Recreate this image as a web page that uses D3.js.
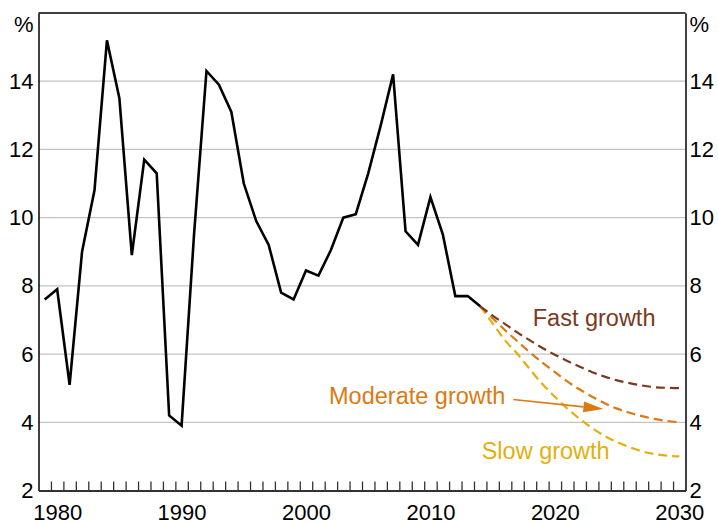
<!DOCTYPE html>
<html>
<head>
<meta charset="utf-8">
<script src="https://cdn.jsdelivr.net/npm/d3@7"></script>
<style>
  body { margin: 0; background: #fff; }
  svg { display: block; font-family: "Liberation Sans", Arial, sans-serif; }
</style>
</head>
<body>
<script>
// ---- data ----
const histYears = d3.range(1979, 2015);
const histValues = [7.6, 7.9, 5.1, 9.0, 10.8, 15.2, 13.5, 8.9, 11.7, 11.3, 4.2, 3.9, 9.5,
  14.3, 13.9, 13.1, 11.0, 9.9, 9.2, 7.8, 7.6, 8.45, 8.3, 9.05, 10.0, 10.1, 11.3, 12.7,
  14.2, 9.6, 9.2, 10.6, 9.5, 7.7, 7.7, 7.4];

const projYears = d3.range(2014, 2031);
const fastValues = [7.4, 7.13, 6.88, 6.63, 6.4, 6.18, 5.98, 5.8, 5.63, 5.47, 5.34, 5.23, 5.15, 5.08, 5.03, 5.01, 5.0];
const moderateValues = [7.4, 7.05, 6.7, 6.37, 6.05, 5.75, 5.47, 5.2, 4.96, 4.75, 4.56, 4.4, 4.28, 4.18, 4.1, 4.04, 4.0];
const slowValues = [7.4, 6.9, 6.4, 6.0, 5.55, 5.12, 4.75, 4.4, 4.1, 3.83, 3.6, 3.42, 3.27, 3.15, 3.07, 3.02, 3.0];

const seriesNames = ["Fast growth", "Moderate growth", "Slow growth"];
const seriesColors = ["#7a3a1c", "#dc7a12", "#e2b00e"];

const yTicks = [2, 4, 6, 8, 10, 12, 14];
const xLabelYears = [1980, 1990, 2000, 2010, 2020, 2030];
const xMinorTicks = d3.range(1979.5, 2030, 1);

// annotation anchors in data units [year, value]
const labelAnchors = [[2018.22, 6.82], [2001.85, 4.54], [2014.12, 2.92]];
const arrowFrom = [2016.66, 4.67];
const arrowTo = [2023.9, 4.39];

// ---- chart ----
const W = 718, H = 524;
const svg = d3.select("body").append("svg").attr("width", W).attr("height", H);

const x = d3.scaleLinear().domain([1978.5, 2030.5]).range([38.5, 685.5]);
const y = d3.scaleLinear().domain([2, 16]).range([490.5, 13]);

// gridlines
svg.append("g").selectAll("line").data([4, 6, 8, 10, 12, 14]).join("line")
  .attr("x1", x(1978.5)).attr("x2", x(2030.5))
  .attr("y1", d => y(d)).attr("y2", d => y(d))
  .attr("stroke", "#c4c4c4").attr("stroke-width", 1.3);

// top border
svg.append("line").attr("x1", x(1978.5)).attr("x2", x(2030.5))
  .attr("y1", y(16)).attr("y2", y(16)).attr("stroke", "#000").attr("stroke-width", 1.5);

const tickFont = "22px";

// left axis
const gl = svg.append("g").attr("transform", `translate(${x(1978.5)},0)`)
  .call(d3.axisLeft(y).tickValues(yTicks).tickSize(0).tickPadding(5).tickSizeOuter(0));
// right axis
const gr = svg.append("g").attr("transform", `translate(${x(2030.5)},0)`)
  .call(d3.axisRight(y).tickValues(yTicks).tickSize(0).tickPadding(4).tickSizeOuter(0));
[gl, gr].forEach(g => {
  g.select(".domain").attr("stroke", "#000").attr("stroke-width", 1.5);
  g.selectAll("text").attr("font-size", tickFont).attr("fill", "#000")
    .attr("font-family", "Liberation Sans, Arial, sans-serif");
});

// minor ticks on bottom
const gm = svg.append("g").attr("transform", `translate(0,${y(2)})`)
  .call(d3.axisBottom(x).tickValues(xMinorTicks).tickSize(-9).tickFormat("").tickSizeOuter(0));
gm.selectAll(".tick line").attr("stroke", "#333").attr("stroke-width", 1.3);
gm.select(".domain").attr("stroke", "#333").attr("stroke-width", 2);

// bottom labels
const gb = svg.append("g").attr("transform", `translate(0,${y(2)})`)
  .call(d3.axisBottom(x).tickValues(xLabelYears).tickFormat(d3.format("d")).tickSize(0).tickPadding(13.5));
gb.select(".domain").remove();
gb.selectAll("text").attr("font-size", tickFont).attr("fill", "#000")
  .attr("font-family", "Liberation Sans, Arial, sans-serif");

// % units
svg.append("text").attr("x", x(1978.5) - 5).attr("y", 31.5).attr("text-anchor", "end")
  .attr("font-size", tickFont).text("%");
svg.append("text").attr("x", x(2030.5) + 4).attr("y", 31.5).attr("text-anchor", "start")
  .attr("font-size", tickFont).text("%");

// projections
const line = d3.line().x(d => x(d[0])).y(d => y(d[1])).curve(d3.curveMonotoneX);
const projSeries = [fastValues, moderateValues, slowValues];
[2, 1, 0].forEach(i => {
  svg.append("path")
    .datum(projYears.map((yr, j) => [yr, projSeries[i][j]]))
    .attr("d", line).attr("fill", "none")
    .attr("stroke", seriesColors[i]).attr("stroke-width", 2.2)
    .attr("stroke-dasharray", "9,5");
});

// history line
const hline = d3.line().x(d => x(d[0])).y(d => y(d[1]));
svg.append("path")
  .datum(histYears.map((yr, j) => [yr, histValues[j]]))
  .attr("d", hline).attr("fill", "none").attr("stroke", "#000")
  .attr("stroke-width", 2.6).attr("stroke-linejoin", "miter");

// labels
seriesNames.forEach((name, i) => {
  svg.append("text").attr("x", x(labelAnchors[i][0])).attr("y", y(labelAnchors[i][1]))
    .attr("font-size", "23.5px").attr("fill", seriesColors[i]).text(name);
});

// arrow
const ax1 = x(arrowFrom[0]), ay1 = y(arrowFrom[1]);
const ax2 = x(arrowTo[0]), ay2 = y(arrowTo[1]);
const ang = Math.atan2(ay2 - ay1, ax2 - ax1);
const headLen = 20, headHalf = 5.5;
const bx = ax2 - headLen * Math.cos(ang), by = ay2 - headLen * Math.sin(ang);
svg.append("line").attr("x1", ax1).attr("y1", ay1).attr("x2", bx).attr("y2", by)
  .attr("stroke", seriesColors[1]).attr("stroke-width", 1.6);
svg.append("path")
  .attr("d", `M${ax2},${ay2}L${bx - headHalf * Math.sin(ang)},${by + headHalf * Math.cos(ang)}L${bx + headHalf * Math.sin(ang)},${by - headHalf * Math.cos(ang)}Z`)
  .attr("fill", seriesColors[1]);
</script>
</body>
</html>
